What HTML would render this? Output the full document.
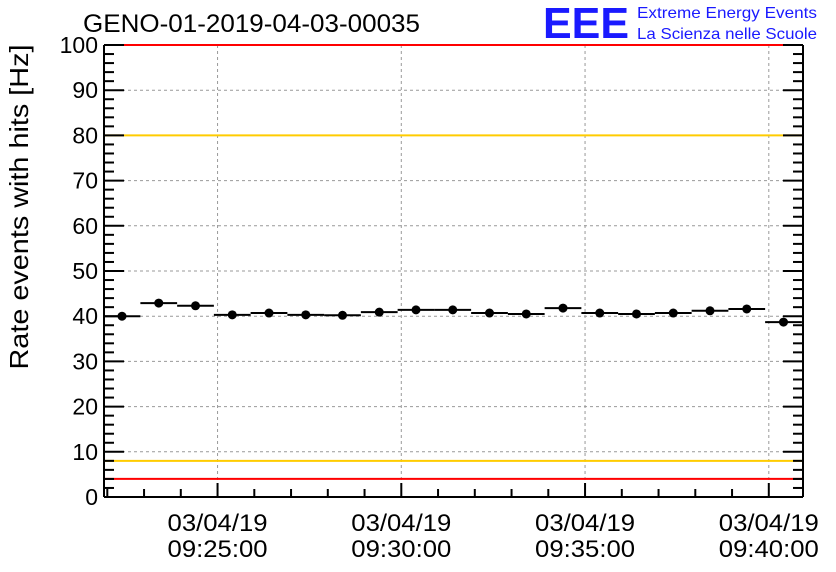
<!DOCTYPE html>
<html><head><meta charset="utf-8"><style>
html,body{margin:0;padding:0;background:#fff}
svg{display:block;font-family:"Liberation Sans",sans-serif}
</style></head><body>
<svg id="chart" width="836" height="572" viewBox="0 0 836 572">
<text x="83" y="32" font-size="25" fill="#000" textLength="337" lengthAdjust="spacingAndGlyphs">GENO-01-2019-04-03-00035</text>
<g>
<text x="543" y="38" font-size="44" font-weight="bold" fill="#1a1aff" textLength="86" lengthAdjust="spacingAndGlyphs">EEE</text>
<text x="637" y="18" font-size="16" fill="#1a1aff" textLength="180" lengthAdjust="spacingAndGlyphs">Extreme Energy Events</text>
<text x="637" y="39" font-size="16" fill="#1a1aff" textLength="180" lengthAdjust="spacingAndGlyphs">La Scienza nelle Scuole</text>
</g>
<text transform="translate(28,207) rotate(-90)" text-anchor="middle" font-size="26" fill="#000" textLength="325" lengthAdjust="spacingAndGlyphs">Rate events with hits [Hz]</text>
<g id="grid"></g><g id="lines"></g><g id="axes"></g><g id="marks"></g>
</svg>
<script>
const minutes = [0,1,2,3,4,5,6,7,8,9,10,11,12,13,14,15,16,17,18];
const rates = [40.0,42.9,42.3,40.3,40.7,40.3,40.2,40.9,41.4,41.4,40.7,40.5,41.8,40.7,40.5,40.7,41.2,41.6,38.7];
const yTicks = [0,10,20,30,40,50,60,70,80,90,100];
const xTickMinutes = [2.6,7.6,12.6,17.6];
const xTickLabels = [["03/04/19","09:25:00"],["03/04/19","09:30:00"],["03/04/19","09:35:00"],["03/04/19","09:40:00"]];
const redLimits = [4,100];
const yellowLimits = [8,80];

const L=104,R=803,T=45,B=497;
const X0=122, PXMIN=36.75;
const xs=m=>X0+m*PXMIN;
const ys=v=>B-(v/100)*(B-T);
const NS="http://www.w3.org/2000/svg";
function mk(tag,attrs,parent){const e=document.createElementNS(NS,tag);for(const k in attrs)e.setAttribute(k,attrs[k]);document.getElementById(parent).appendChild(e);return e;}

yTicks.forEach(v=>{
  if(v>0&&v<100){const g=mk('line',{x1:L,x2:R,y1:ys(v),y2:ys(v),stroke:'#999','stroke-dasharray':'3,3','stroke-width':1},'grid');
  
  }
  const t=mk('text',{x:L-6,y:ys(v)+8,'text-anchor':'end','font-size':23},'axes');t.textContent=v;
  
  
});
xTickMinutes.forEach((m,i)=>{
  const g=mk('line',{x1:xs(m),x2:xs(m),y1:T,y2:B,stroke:'#999','stroke-dasharray':'3,3','stroke-width':1},'grid');
  
  
  xTickLabels[i].forEach((s,j)=>{
    const t=mk('text',{x:xs(m),y:531+j*26,'text-anchor':'middle','font-size':24,textLength:100,lengthAdjust:'spacingAndGlyphs'},'axes');t.textContent=s;
    
    
  });
});
redLimits.forEach(v=>{const l=mk('line',{x1:L,x2:R,y1:ys(v),y2:ys(v),stroke:'#ff0000','stroke-width':2},'lines');
  
  });
yellowLimits.forEach(v=>{const l=mk('line',{x1:L,x2:R,y1:ys(v),y2:ys(v),stroke:'#ffcc00','stroke-width':2},'lines');
  
  });
[[L,T,L,B],[L,B,R,B],[R,T,R,B]].forEach(a=>{const l=mk('line',{x1:a[0],y1:a[1],x2:a[2],y2:a[3],stroke:'#000','stroke-width':2},'axes');
  
  });
for(let v=0;v<=100;v+=2){const len=v%10===0?20:10;
  [[L,L+len],[R,R-len]].forEach(p=>{const l=mk('line',{x1:p[0],x2:p[1],y1:ys(v),y2:ys(v),stroke:'#000','stroke-width':2},'axes');
  
  });}
for(let k=-3;k<=20;k++){const m=xTickMinutes[0]+k;
  const xx=xs(m);if(xx<L+2||xx>R)continue;
  const major=(k%5===0);
  const l=mk('line',{x1:xx,x2:xx,y1:B,y2:B-(major?14:8),stroke:'#000','stroke-width':2},'axes');
  
  }
minutes.forEach((m,i)=>{
  const x=xs(m),y=ys(rates[i]);
  const l=mk('line',{x1:x-PXMIN/2,x2:x+PXMIN/2,y1:y,y2:y,stroke:'#000','stroke-width':2},'marks');
  
  
  const c=mk('circle',{cx:x,cy:y,r:4.5,fill:'#000'},'marks');
  
  
});
</script>
</body></html>
